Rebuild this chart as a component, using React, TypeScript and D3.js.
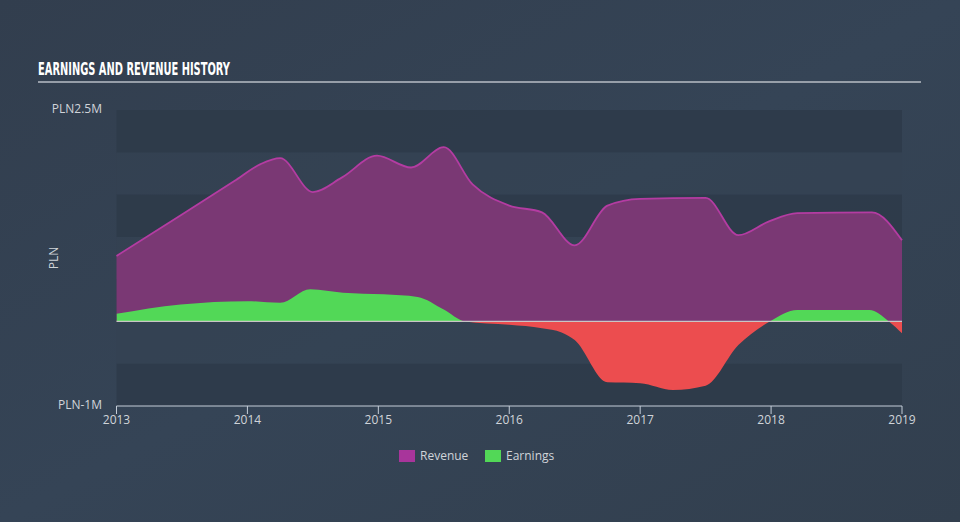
import React from "react";
import * as d3 from "d3";

const revDates = [2013.0, 2013.5, 2013.9, 2014.1, 2014.25, 2014.5, 2014.72, 2014.99, 2015.25, 2015.5, 2015.72, 2016.0, 2016.25, 2016.5, 2016.75, 2017.0, 2017.5, 2017.75, 2017.98, 2018.2, 2018.77, 2019.0];
const revValues = [0.775, 1.265, 1.66, 1.86, 1.93, 1.53, 1.70, 1.96, 1.82, 2.06, 1.62, 1.37, 1.29, 0.90, 1.37, 1.45, 1.46, 1.02, 1.18, 1.28, 1.29, 0.96];

const earnDates = [2013.0, 2013.49, 2014.0, 2014.25, 2014.48, 2014.73, 2015.04, 2015.3, 2015.5, 2015.66, 2016.0, 2016.25, 2016.4, 2016.5, 2016.75, 2017.0, 2017.25, 2017.5, 2017.75, 2017.99, 2018.2, 2018.75, 2018.9, 2019.0];
const earnValues = [0.09, 0.20, 0.24, 0.22, 0.38, 0.34, 0.32, 0.29, 0.14, 0.0, -0.04, -0.08, -0.13, -0.22, -0.72, -0.73, -0.81, -0.76, -0.28, 0.0, 0.135, 0.135, 0.0, -0.14];

const xTicks = [2013, 2014, 2015, 2016, 2017, 2018, 2019];
const yTickLabels = ["PLN2.5M", "PLN-1M"];
const yTickValues = [2.5, -1];
const legendItems = ["Revenue", "Earnings"];

const W = 960, H = 522;
const L = 116.5, R = 902, T = 110, B = 406;

export default function App() {
  const x = d3.scaleLinear().domain([2013, 2019]).range([L, R]);
  const y = d3.scaleLinear().domain([-1, 2.5]).range([B, T]);
  const bands = d3.range(-1, 2.5, 0.5);

  const revPts = revDates.map((d, i) => [d, revValues[i]] as [number, number]);
  const earnPts = earnDates.map((d, i) => [d, earnValues[i]] as [number, number]);

  const revArea = d3.area<[number, number]>().x(d => x(d[0])).y0(y(0)).y1(d => y(d[1])).curve(d3.curveMonotoneX)(revPts) || "";
  const revLine = d3.line<[number, number]>().x(d => x(d[0])).y(d => y(d[1])).curve(d3.curveMonotoneX)(revPts) || "";
  const earnArea = d3.area<[number, number]>().x(d => x(d[0])).y0(y(0)).y1(d => y(d[1])).curve(d3.curveMonotoneX)(earnPts) || "";

  const font = "'Open Sans', 'DejaVu Sans', sans-serif";

  return (
    <svg width={W} height={H} style={{ position: "absolute", left: 0, top: 0 }} xmlns="http://www.w3.org/2000/svg">
      <defs>
        <linearGradient id="bg" x1="0" y1="0" x2="1" y2="1">
          <stop offset="0" stopColor="#323e4e" />
          <stop offset="0.5" stopColor="#354456" />
          <stop offset="1" stopColor="#323f4e" />
        </linearGradient>
        <clipPath id="above"><rect x={L} y={T} width={R - L} height={y(0) - T} /></clipPath>
        <clipPath id="below"><rect x={L} y={y(0)} width={R - L} height={B - y(0)} /></clipPath>
      </defs>
      <rect x={0} y={0} width={W} height={H} fill="url(#bg)" />
      {bands.map((b, i) => (
        <rect key={i} x={L} y={y(b + 0.5)} width={R - L} height={y(b) - y(b + 0.5)}
          fill={i % 2 === 0 ? "#2d3a49" : "#334152"} opacity={i % 2 === 0 ? 0.8 : 0.5} />
      ))}
      <text x={38} y={75} fill="#ffffff" fontFamily="'Liberation Sans Narrow', 'DejaVu Sans Condensed', sans-serif" fontWeight="bold" fontSize={17} textLength={192} lengthAdjust="spacingAndGlyphs">EARNINGS AND REVENUE HISTORY</text>
      <line x1={38} x2={921} y1={82} y2={82} stroke="#b8bec6" strokeWidth={1.5} />

      <path d={revArea} fill="#7a3874" />
      <path d={revLine} fill="none" stroke="#b43ca2" strokeWidth={1.8} />
      <path d={earnArea} fill="#52d857" clipPath="url(#above)" />
      <path d={earnArea} fill="#ec4d4f" clipPath="url(#below)" />
      <line x1={L} x2={R} y1={y(0)} y2={y(0)} stroke="#d8d8d8" strokeWidth={1.3} opacity={0.85} />

      {yTickValues.map((v, i) => (
        <text key={i} x={102} y={y(v) + 3} textAnchor="end" fill="#d0d4d9" fontFamily={font} fontSize={12}>{yTickLabels[i]}</text>
      ))}
      <text transform={`translate(58,${(T + B) / 2}) rotate(-90)`} textAnchor="middle" fill="#d0d4d9" fontFamily={font} fontSize={12}>PLN</text>

      <line x1={L} x2={R} y1={B} y2={B} stroke="#c4cdd8" strokeWidth={1} />
      {xTicks.map(t => (
        <g key={t}>
          <line x1={x(t)} x2={x(t)} y1={B} y2={B + 8} stroke="#c4cdd8" strokeWidth={1} />
          <text x={x(t)} y={424} textAnchor="middle" fill="#d0d4d9" fontFamily={font} fontSize={12}>{t}</text>
        </g>
      ))}

      <rect x={399} y={450} width={16} height={12} fill="#a8359b" />
      <text x={420} y={460} fill="#d0d4d9" fontFamily={font} fontSize={12}>{legendItems[0]}</text>
      <rect x={485} y={450} width={16} height={12} fill="#52d857" />
      <text x={506} y={460} fill="#d0d4d9" fontFamily={font} fontSize={12}>{legendItems[1]}</text>
    </svg>
  );
}
